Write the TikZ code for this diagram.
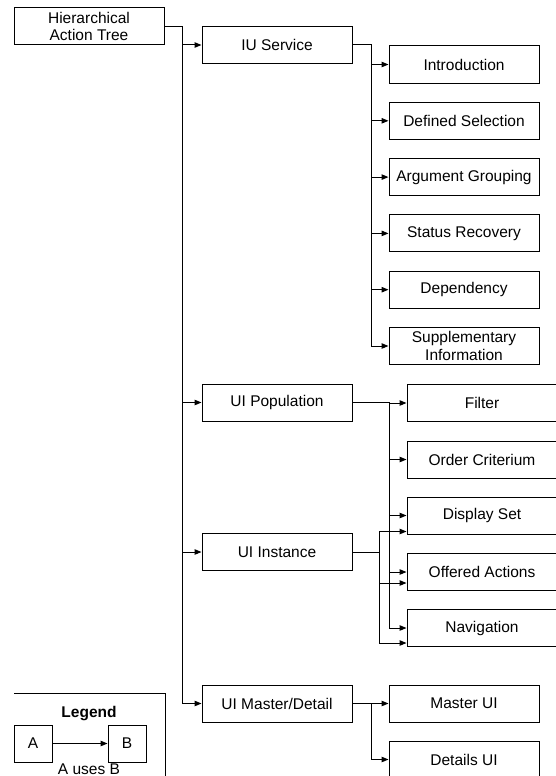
\documentclass[tikz,border=0pt]{standalone}
\usepackage{fontspec}
\setmainfont{Liberation Sans}
\usetikzlibrary{arrows.meta}

\tikzset{
  box/.style={draw, line width=1pt, minimum width=150pt, minimum height=37pt,
    inner sep=1pt, align=center, font=\fontsize{15.5}{17.5}\selectfont},
  uses/.style={-{Triangle[length=7pt,width=5.5pt]}, line width=1pt},
}

\begin{document}
\begin{tikzpicture}[x=1pt,y=-1pt]
\useasboundingbox (0,0) rectangle (555,776);
% Root and its four parts
\node[box] (hat) at (89,26.5) {Hierarchical\\Action Tree};
\node[box] (ius) at (277,45) {IU Service};
\node[box] (pop) at (277,402.5) {UI Population};
\node[box] (inst) at (277,552) {UI Instance};
\node[box] (md) at (277,703.5) {UI Master/Detail};
% IU Service parts
\node[box] (intro) at (464,64.5) {Introduction};
\node[box] (defsel) at (464,120.8) {Defined Selection};
\node[box] (arggrp) at (464,177.1) {Argument Grouping};
\node[box] (status) at (464,233.4) {Status Recovery};
\node[box] (dep) at (464,289.7) {Dependency};
\node[box] (suppl) at (464,346) {Supplementary\\Information};
% Population / Instance parts
\node[box] (filter) at (482,403) {Filter};
\node[box] (order) at (482,459.5) {Order Criterium};
\node[box] (dispset) at (482,515.5) {Display Set};
\node[box] (offered) at (482,572) {Offered Actions};
\node[box] (nav) at (482,628) {Navigation};
% Master/Detail parts
\node[box] (master) at (464,703.5) {Master UI};
\node[box] (details) at (464,759.5) {Details UI};

% root uses
\draw[uses] (hat.east) -- ++(18,0) |- (ius.west);
\draw[uses] (hat.east) -- ++(18,0) |- (pop.west);
\draw[uses] (hat.east) -- ++(18,0) |- (inst.west);
\draw[uses] (hat.east) -- ++(18,0) |- (md.west);
% IU Service uses
\draw[uses] (ius.east) -- ++(19,0) |- (intro.west);
\draw[uses] (ius.east) -- ++(19,0) |- (defsel.west);
\draw[uses] (ius.east) -- ++(19,0) |- (arggrp.west);
\draw[uses] (ius.east) -- ++(19,0) |- (status.west);
\draw[uses] (ius.east) -- ++(19,0) |- (dep.west);
\draw[uses] (ius.east) -- ++(19,0) |- (suppl.west);
% UI Population uses
\draw[uses] (pop.east) -- ++(37,0) |- (filter.west);
\draw[uses] (pop.east) -- ++(37,0) |- (order.west);
\draw[uses] (pop.east) -- ++(37,0) |- (dispset.west);
\draw[uses] (pop.east) -- ++(37,0) |- (offered.west);
\draw[uses] (pop.east) -- ++(37,0) |- (nav.west);
% UI Instance uses
\draw[uses] (inst.east) -- ++(27,0) |- ([yshift=3pt]dispset.south west);
\draw[uses] (inst.east) -- ++(27,0) |- ([yshift=8pt]offered.south west);
\draw[uses] (inst.east) -- ++(27,0) |- ([yshift=4pt]nav.south west);
% UI Master/Detail uses
\draw[uses] (md.east) -- ++(19,0) |- (master.west);
\draw[uses] (md.east) -- ++(19,0) |- (details.west);

% Legend
\draw[line width=1pt] (14,693) -| (165,776);
\node[font=\fontsize{15.5}{17.5}\selectfont\bfseries] (legend) at (89,714) {Legend};
\node[box, minimum width=38pt] (a) at (33,743.5) {A};
\node[box, minimum width=38pt] (b) at (127,743.5) {B};
\draw[uses] (a) -- (b);
\node[anchor=base, font=\fontsize{15.5}{17.5}\selectfont] (usage) at (89,774) {A uses B};
\end{tikzpicture}
\end{document}
